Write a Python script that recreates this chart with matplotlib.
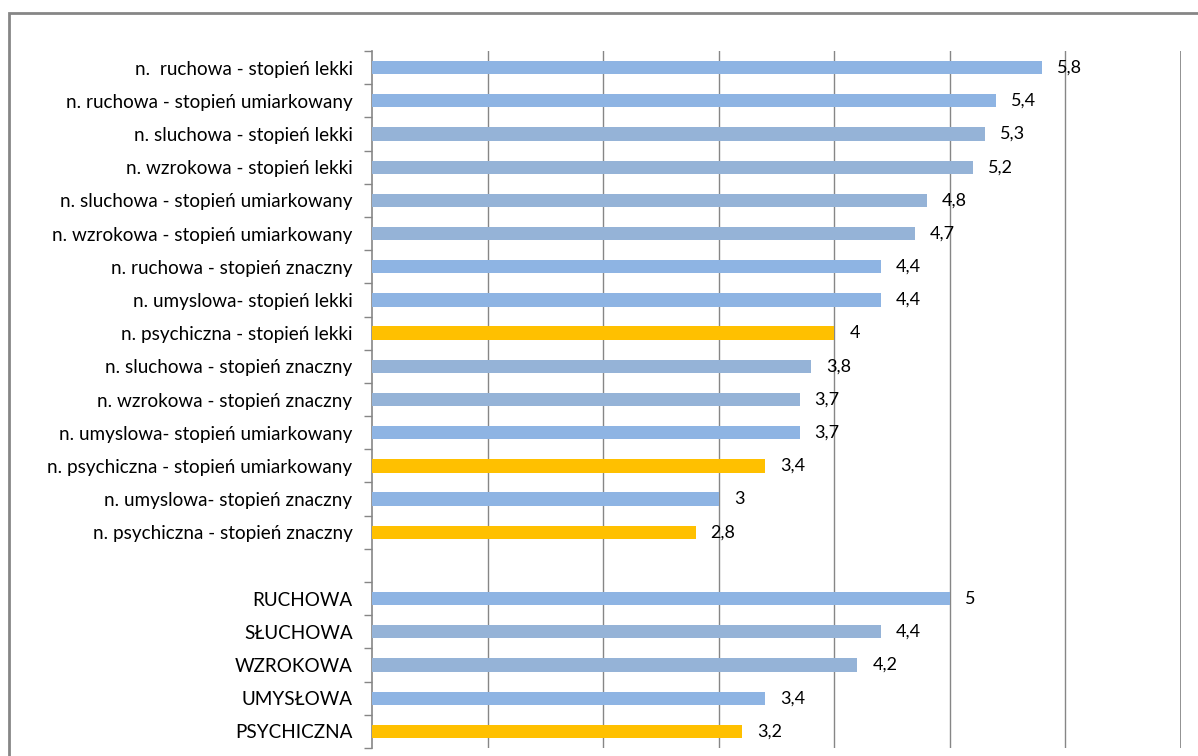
#!/usr/bin/env python3
"""Horizontal bar chart: values by type and degree of disability."""

import matplotlib

matplotlib.use("Agg")
import matplotlib.pyplot as plt
import numpy as np
from matplotlib.patches import Rectangle

# rows from top to bottom, "" is the empty spacer row
CATEGORIES = [
    "n.  ruchowa - stopień lekki",
    "n. ruchowa - stopień umiarkowany",
    "n. sluchowa - stopień lekki",
    "n. wzrokowa - stopień lekki",
    "n. sluchowa - stopień umiarkowany",
    "n. wzrokowa - stopień umiarkowany",
    "n. ruchowa - stopień znaczny",
    "n. umyslowa- stopień lekki",
    "n. psychiczna - stopień lekki",
    "n. sluchowa - stopień znaczny",
    "n. wzrokowa - stopień znaczny",
    "n. umyslowa- stopień umiarkowany",
    "n. psychiczna - stopień umiarkowany",
    "n. umyslowa- stopień znaczny",
    "n. psychiczna - stopień znaczny",
    "",
    "RUCHOWA",
    "SŁUCHOWA",
    "WZROKOWA",
    "UMYSŁOWA",
    "PSYCHICZNA",
]
VALUES = [5.8, 5.4, 5.3, 5.2, 4.8, 4.7, 4.4, 4.4, 4.0, 3.8, 3.7, 3.7, 3.4, 3.0, 2.8,
          None, 5.0, 4.4, 4.2, 3.4, 3.2]
GROUPS = ["ruch", "ruch", "sluch", "wzrok", "sluch", "wzrok", "ruch", "umysl", "psych",
          "sluch", "wzrok", "umysl", "psych", "umysl", "psych",
          None, "ruch", "sluch", "wzrok", "umysl", "psych"]

GROUP_COLOR = {
    "ruch": "#8EB4E3",
    "umysl": "#8EB4E3",
    "sluch": "#95B3D7",
    "wzrok": "#95B3D7",
    "psych": "#FFC000",
}
GREY = "#868686"
FONT = ["Lato", "DejaVu Sans"]


def fmt(v):
    s = f"{v:g}"
    return s.replace(".", ",")


def main():
    fig = plt.figure(figsize=(11.98, 7.56), dpi=100)
    plt.rcParams["font.family"] = FONT

    # outer chart frame (only top and left edge are visible)
    fig.patches.append(Rectangle((9 / 1198, -0.1), 1.2, 1 - 13 / 756 + 0.1,
                                 transform=fig.transFigure, fill=False,
                                 edgecolor=GREY, linewidth=2))

    ax = fig.add_axes([372 / 1198, 1 - 748 / 756, (1181 - 372) / 1198, (748 - 51) / 756])
    n = len(CATEGORIES)
    y = np.arange(n)
    for i, (v, g) in enumerate(zip(VALUES, GROUPS)):
        if v is None:
            continue
        ax.barh(i, v, height=0.4, color=GROUP_COLOR[g], zorder=3)
        ax.text(v + 0.13, i, fmt(v), va="center", ha="left", fontsize=13,
                color="black", zorder=4)

    ax.set_xlim(0, 7)
    ax.set_ylim(n - 0.5, -0.5)

    for x in range(1, 8):
        ax.axvline(x, color=GREY, linewidth=2 if x == 7 else 1, zorder=1)

    ax.set_yticks(y)
    ax.set_yticklabels(CATEGORIES, fontsize=13.6)
    ax.set_yticks(np.arange(n + 1) - 0.5, minor=True)
    ax.tick_params(axis="y", which="major", length=0, pad=14)
    ax.tick_params(axis="y", which="minor", length=6, color=GREY, width=1)
    ax.set_xticks([])

    for side in ["top", "right", "bottom"]:
        ax.spines[side].set_visible(False)
    ax.spines["left"].set_color(GREY)
    ax.spines["left"].set_linewidth(1.2)

    fig.savefig("out.png", dpi=100)


if __name__ == "__main__":
    main()
